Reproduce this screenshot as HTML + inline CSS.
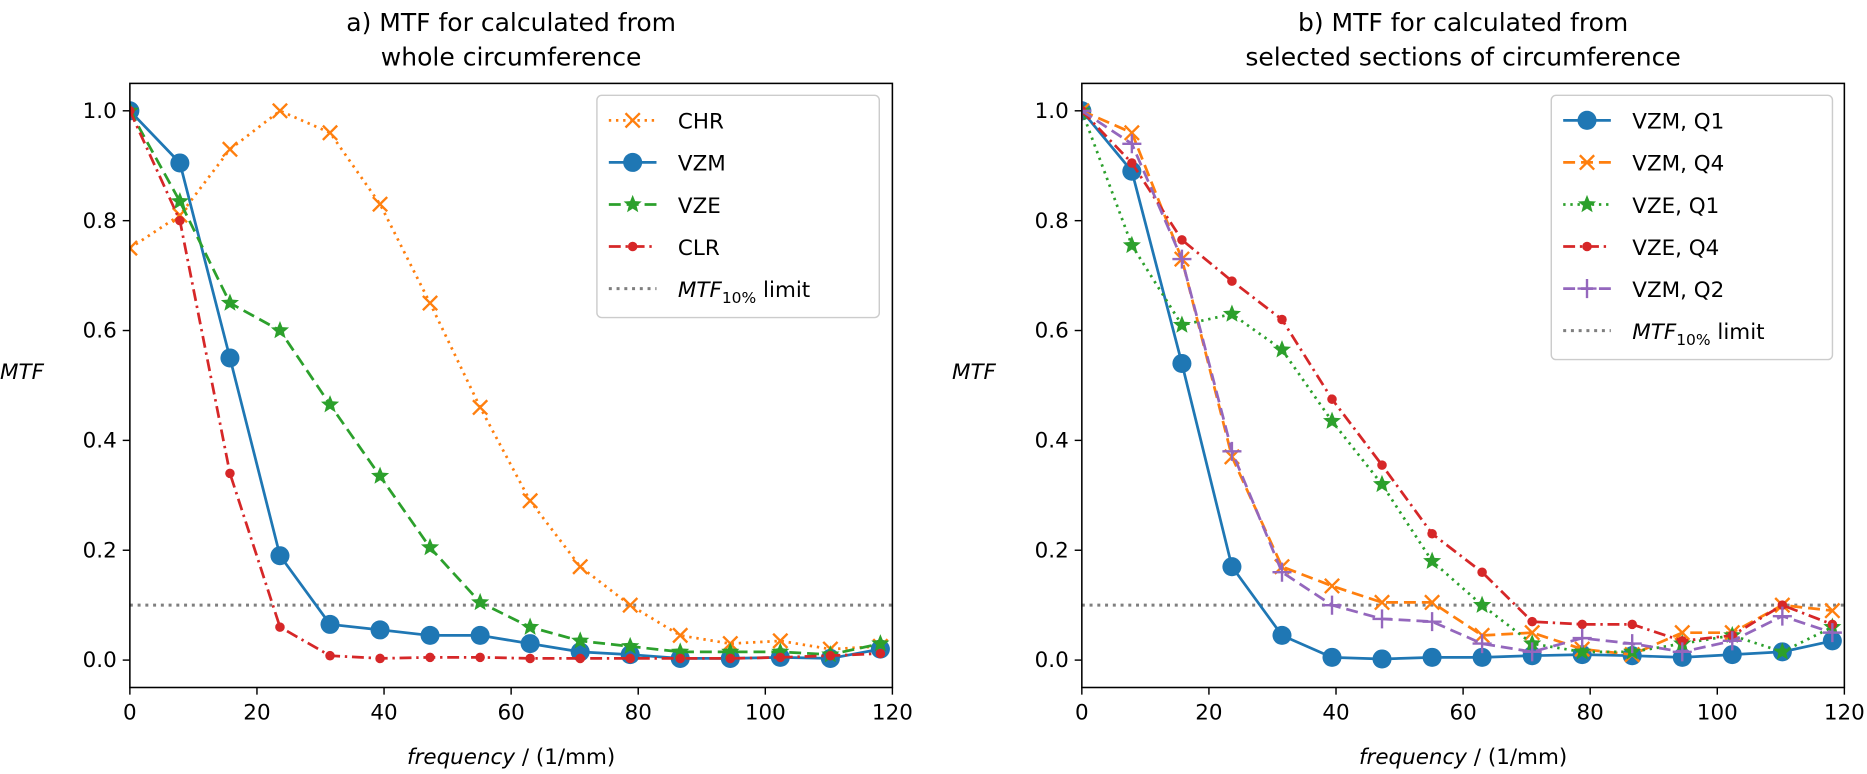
<!DOCTYPE html>
<html><head><meta charset="utf-8">
<style>
html,body{margin:0;padding:0;background:#fff;}
svg{display:block;font-family:"DejaVu Sans","Liberation Sans",sans-serif;}
</style></head>
<body>
<svg id="chart" width="1867" height="774" viewBox="0 0 1567 649.6" preserveAspectRatio="none" xmlns="http://www.w3.org/2000/svg"></svg>
<script>
const freqs = [0,7.87,15.75,23.62,31.5,39.37,47.24,55.12,62.99,70.87,78.74,86.61,94.49,102.36,110.24,118.11];
const chrA = [0.75,0.81,0.93,1.0,0.96,0.83,0.65,0.46,0.29,0.17,0.10,0.045,0.03,0.035,0.02,0.025];
const vzmA = [1.0,0.905,0.55,0.19,0.065,0.055,0.045,0.045,0.03,0.015,0.01,0.003,0.003,0.005,0.003,0.02];
const vzeA = [1.0,0.835,0.65,0.6,0.465,0.335,0.205,0.105,0.06,0.035,0.025,0.015,0.015,0.015,0.01,0.03];
const clrA = [1.0,0.80,0.34,0.06,0.008,0.003,0.005,0.005,0.003,0.003,0.003,0.003,0.003,0.005,0.008,0.012];
const vzmQ1 = [1.0,0.89,0.54,0.17,0.045,0.005,0.002,0.005,0.005,0.008,0.01,0.008,0.005,0.01,0.015,0.035];
const vzmQ4 = [1.0,0.96,0.73,0.37,0.17,0.135,0.105,0.105,0.045,0.05,0.02,0.01,0.05,0.05,0.1,0.09];
const vzeQ1 = [1.0,0.755,0.61,0.63,0.565,0.435,0.32,0.18,0.1,0.03,0.015,0.015,0.03,0.045,0.015,0.06];
const vzeQ4 = [1.0,0.905,0.765,0.69,0.62,0.475,0.355,0.23,0.16,0.07,0.065,0.065,0.035,0.045,0.1,0.065];
const vzmQ2 = [1.0,0.94,0.73,0.38,0.16,0.1,0.075,0.07,0.03,0.015,0.04,0.03,0.015,0.035,0.08,0.05];
const xTicks = [0,20,40,60,80,100,120];
const yTicks = [0.0,0.2,0.4,0.6,0.8,1.0];
const limit = 0.1;

const NS="http://www.w3.org/2000/svg";
const svg=document.getElementById('chart');
function el(tag,attrs,parent){const e=document.createElementNS(NS,tag);for(const k in attrs)e.setAttribute(k,attrs[k]);(parent||svg).appendChild(e);return e;}
const C={orange:'#ff7f0e',blue:'#1f77b4',green:'#2ca02c',red:'#d62728',purple:'#9467bd',gray:'#7f7f7f'};
const STY={dotted:'2,4',dashed:'10,5',dashdot:'10,4,2,4',solid:''};

function marker(g,type,x,y,color){
  let m;
  if(type==='x'){m=el('path',{d:`M${x-6},${y-6}L${x+6},${y+6}M${x-6},${y+6}L${x+6},${y-6}`,stroke:color,'stroke-width':2,fill:'none'},g);}
  else if(type==='o'){m=el('circle',{cx:x,cy:y,r:8,fill:color},g);}
  else if(type==='.'){m=el('circle',{cx:x,cy:y,r:4,fill:color},g);}
  else if(type==='*'){let p='';for(let i=0;i<10;i++){const r=i%2?3.5:8;const a=-Math.PI/2+i*Math.PI/5;p+=(i?'L':'M')+(x+r*Math.cos(a)).toFixed(1)+','+(y+r*Math.sin(a)).toFixed(1);}m=el('path',{d:p+'Z',fill:color},g);}
  else if(type==='+'){m=el('path',{d:`M${x-8},${y}L${x+8},${y}M${x},${y-8}L${x},${y+8}`,stroke:color,'stroke-width':2},g);}
  return m;
}

function panel(id,left,title1,title2,series,legendW,legendX){
  const right=left+640, top=70, bottom=577;
  const xs=v=>left+v/120*640;
  const ys=v=>554-v*461;
  const g=el('g',{});  
  const cx=(left+right)/2;
  let t=el('text',{x:cx,y:26,'text-anchor':'middle','font-size':21},g);t.textContent=title1;
  
  t=el('text',{x:cx,y:55,'text-anchor':'middle','font-size':21},g);t.textContent=title2;
  
  const ll=el('line',{x1:left,x2:right,y1:ys(limit),y2:ys(limit),stroke:C.gray,'stroke-width':2.5,'stroke-dasharray':'2.5,4'},g);
  
  const clip=el('clipPath',{id:'clip'+id},g);el('rect',{x:left,y:top,width:640,height:bottom-top},clip);
  const sg=el('g',{'clip-path':`url(#clip${id})`},g);
  series.forEach(s=>{
    const sgi=el('g',{},sg);
    const d=s.data.map((v,i)=>(i?'L':'M')+xs(freqs[i]).toFixed(1)+','+ys(v).toFixed(1)).join('');
    el('path',{d,fill:'none',stroke:s.color,'stroke-width':2.3,'stroke-dasharray':STY[s.ls]},sgi);
    s.data.forEach((v,i)=>{const m=marker(sgi,s.mk,xs(freqs[i]),ys(v),s.color);});
  });
  el('rect',{x:left,y:top,width:640,height:bottom-top,fill:'none',stroke:'#000','stroke-width':1.3},g);
  xTicks.forEach(v=>{const x=xs(v);el('line',{x1:x,x2:x,y1:bottom,y2:bottom+6,stroke:'#000','stroke-width':1.2},g);
    const tt=el('text',{x:x,y:bottom+27,'text-anchor':'middle','font-size':18},g);tt.textContent=v;});
  yTicks.forEach(v=>{const y=ys(v);el('line',{x1:left-6,x2:left,y1:y,y2:y,stroke:'#000','stroke-width':1.2},g);
    const tt=el('text',{x:left-11,y:y+6,'text-anchor':'end','font-size':18},g);tt.textContent=v.toFixed(1);});
  t=el('text',{x:cx,y:641,'text-anchor':'middle','font-size':18},g);
  t.innerHTML='<tspan font-style="italic">frequency</tspan> / (1/mm)';
  
  t=el('text',{x:left-109,y:318,'font-size':18,'font-style':'italic'},g);t.textContent='MTF';
  
  const n=series.length+1, lh=35.3;
  const lg=el('g',{},g);
  el('rect',{x:legendX,y:80,width:legendW,height:n*lh+10,rx:4,fill:'#fff',stroke:'#ccc','stroke-width':1.2},lg);
  const items=series.concat([{name:'limit',color:C.gray,ls:'dotted',mk:null}]);
  items.forEach((s,i)=>{
    const y=101+i*lh;
    const eg=el('g',{},lg);
    el('line',{x1:legendX+10,x2:legendX+50,y1:y,y2:y,stroke:s.color,'stroke-width':s.mk?2.3:2.5,'stroke-dasharray':s.mk?STY[s.ls]:'2.5,4'},eg);
    if(s.mk)marker(eg,s.mk,legendX+30,y,s.color);
    const tx=el('text',{x:legendX+68,y:y+7,'font-size':18},eg);
    if(s.mk)tx.textContent=s.name;else tx.innerHTML='<tspan font-style="italic">MTF</tspan><tspan font-size="13" dy="5">10%</tspan><tspan dy="-5"> limit</tspan>';
  });
}

panel('panel-a',109,'a) MTF for calculated from','whole circumference',[
  {name:'CHR',data:chrA,color:C.orange,ls:'dotted',mk:'x'},
  {name:'VZM',data:vzmA,color:C.blue,ls:'solid',mk:'o'},
  {name:'VZE',data:vzeA,color:C.green,ls:'dashed',mk:'*'},
  {name:'CLR',data:clrA,color:C.red,ls:'dashdot',mk:'.'}],237,501);
panel('panel-b',908,'b) MTF for calculated from','selected sections of circumference',[
  {name:'VZM, Q1',data:vzmQ1,color:C.blue,ls:'solid',mk:'o'},
  {name:'VZM, Q4',data:vzmQ4,color:C.orange,ls:'dashed',mk:'x'},
  {name:'VZE, Q1',data:vzeQ1,color:C.green,ls:'dotted',mk:'*'},
  {name:'VZE, Q4',data:vzeQ4,color:C.red,ls:'dashdot',mk:'.'},
  {name:'VZM, Q2',data:vzmQ2,color:C.purple,ls:'dashed',mk:'+'}],236,1302);
</script>
</body></html>
